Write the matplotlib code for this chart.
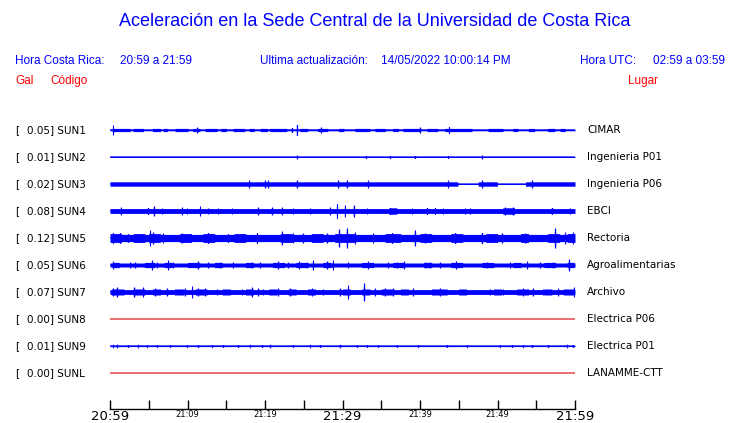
import matplotlib
matplotlib.use('Agg')
import matplotlib.pyplot as plt
import matplotlib.transforms as mtransforms
import numpy as np
from datetime import datetime, timedelta

# estaciones
codes = ['SUN1', 'SUN2', 'SUN3', 'SUN4', 'SUN5', 'SUN6', 'SUN7', 'SUN8', 'SUN9', 'SUNL']
gal = [0.05, 0.01, 0.02, 0.08, 0.12, 0.05, 0.07, 0.00, 0.01, 0.00]
places = ['CIMAR', 'Ingenieria P01', 'Ingenieria P06', 'EBCI', 'Rectoria',
          'Agroalimentarias', 'Archivo', 'Electrica P06', 'Electrica P01', 'LANAMME-CTT']

# amplitud de fondo de cada traza (px de media altura)
base_amp = [0.8, 0.5, 2.2, 2.4, 3.6, 2.0, 2.4, 0.0, 0.6, 0.0]

# tramos (min inicio, min fin, amplitud) y picos (min, amplitud)
blocks_sun1 = [(0.3, 2.6, 1.6), (3.0, 4.3, 1.6), (5.5, 6.5, 1.6), (6.9, 7.4, 1.6), (8.4, 10.1, 1.6),
               (10.7, 11.6, 1.6), (12.3, 13.8, 1.6), (14.3, 15.0, 1.6), (15.9, 17.4, 1.6),
               (18.0, 18.6, 1.6), (19.4, 20.3, 1.6), (20.6, 22.8, 1.6), (24.5, 25.5, 1.6),
               (26.8, 28.1, 1.6), (29.5, 30.2, 1.6), (31.6, 33.5, 1.6), (34.2, 35.5, 1.6),
               (36.5, 37.2, 1.6), (37.8, 40.0, 1.6), (40.9, 42.3, 1.6), (43.2, 46.7, 1.6),
               (48.8, 50.7, 1.6), (52.0, 52.6, 1.6), (54.0, 54.8, 1.6), (56.5, 57.4, 1.6),
               (58.1, 58.7, 1.6)]
spikes_sun1 = [(0.39, 5), (11.23, 3), (23.48, 2.5), (24.13, 5.5), (27.23, 3), (40.0, 3), (43.74, 3.5)]

blocks_sun2 = []
spikes_sun2 = [(24.13, 2), (33.03, 1.5), (36.13, 1.5), (39.35, 1.5), (43.61, 1.5), (48.0, 2)]

blocks_sun3 = [(44.9, 47.5, 0.5), (50.0, 53.6, 0.5)]  # tramos casi planos
spikes_sun3 = [(17.94, 4), (20.0, 4), (20.39, 4), (24.13, 4), (29.42, 4), (30.58, 4),
               (33.29, 4), (43.61, 4), (48.0, 4), (54.45, 4)]

blocks_sun4 = [(36.0, 37.0, 3.2), (50.7, 52.2, 3.2)]
spikes_sun4 = [(1.42, 4), (4.90, 3.5), (5.68, 5), (6.71, 3), (9.29, 4), (9.94, 3), (11.61, 5),
               (12.65, 3), (13.94, 3), (15.74, 3), (19.10, 4), (20.90, 4), (22.19, 4), (23.61, 3),
               (25.81, 3), (28.39, 4), (29.29, 7.5), (30.32, 6), (31.48, 6), (33.16, 3),
               (36.13, 3.5), (38.97, 3), (40.90, 3.5), (41.94, 3.5), (42.97, 3), (45.81, 3),
               (46.45, 3), (50.97, 4), (52.0, 4), (57.03, 3.5), (59.35, 3)]

blocks_sun5 = [(0.0, 1.5, 4.4), (3.0, 4.5, 4.4), (5.0, 6.5, 4.4), (9.0, 10.5, 4.4), (12.0, 13.5, 4.4),
               (16.0, 17.5, 4.4), (22.0, 23.5, 4.4), (26.0, 27.5, 4.4), (29.0, 31.5, 4.4),
               (35.5, 37.5, 4.4), (40.0, 41.5, 4.4), (44.0, 45.5, 4.4), (48.5, 50.0, 4.4),
               (53.0, 54.0, 4.4), (56.5, 58.0, 4.4), (59.0, 60.0, 4.4)]
spikes_sun5 = [(0.39, 5.5), (1.29, 5.5), (2.32, 4.5), (3.61, 4.5), (5.16, 8), (5.55, 6), (6.84, 5),
               (9.29, 5), (12.65, 5.5), (15.23, 4.5), (17.03, 4.5), (18.97, 5.5), (22.19, 7),
               (23.61, 5), (24.90, 5), (28.0, 5), (29.55, 9), (30.58, 10), (31.61, 6), (33.94, 5),
               (36.39, 5.5), (39.35, 8), (40.65, 5), (44.52, 5.5), (48.0, 5.5), (50.58, 5),
               (53.55, 5), (57.42, 10), (58.71, 6), (59.74, 6)]

blocks_sun6 = [(0.3, 1.2, 2.6), (4.5, 5.8, 2.6), (7.0, 8.0, 2.6), (10.0, 11.6, 2.6), (13.5, 14.5, 2.6),
               (17.5, 18.5, 2.6), (21.0, 22.5, 2.6), (24.0, 25.5, 2.6), (27.5, 28.5, 2.6),
               (32.5, 34.0, 2.6), (36.5, 38.0, 2.6), (40.5, 41.5, 2.6), (44.0, 45.5, 2.6),
               (48.0, 49.5, 2.6), (52.0, 53.0, 2.6), (56.0, 57.5, 2.6), (59.0, 59.9, 2.6)]
spikes_sun6 = [(0.39, 4), (2.58, 3), (3.23, 3), (5.42, 5), (6.06, 3), (7.48, 5), (8.13, 3),
               (11.35, 4), (12.65, 3), (14.19, 3), (15.87, 3), (18.32, 3), (19.35, 3), (21.68, 4),
               (22.97, 3), (24.39, 4), (25.42, 3), (26.19, 5), (28.0, 4), (28.77, 5), (30.71, 3),
               (33.29, 4), (35.87, 3), (37.03, 3), (37.94, 4), (40.65, 3), (41.2, 3), (42.58, 3),
               (44.65, 4), (48.65, 3), (51.61, 3), (53.81, 4), (55.48, 3), (57.16, 3), (59.23, 6)]

blocks_sun7 = [(0.2, 1.8, 3), (3.0, 4.5, 3), (5.5, 6.5, 3), (8.5, 9.5, 3), (11.0, 12.5, 3),
               (14.5, 15.5, 3), (17.5, 18.5, 3), (20.5, 21.5, 3), (23.0, 24.0, 3), (25.5, 26.5, 3),
               (30.0, 31.0, 3), (32.5, 33.5, 3), (35.0, 36.5, 3), (37.5, 38.5, 3), (41.5, 43.5, 3),
               (45.0, 46.0, 3), (49.5, 50.5, 3), (52.5, 54.0, 3), (56.0, 57.0, 3), (58.5, 59.8, 3)]
spikes_sun7 = [(0.39, 4), (0.90, 5), (1.68, 3), (3.10, 5), (4.26, 5), (5.81, 4), (7.35, 4), (8.39, 3),
               (9.68, 4), (10.58, 6), (11.35, 4), (12.26, 4), (13.81, 3), (15.23, 3), (17.03, 3),
               (18.32, 5), (19.10, 4), (19.74, 3), (21.68, 4), (23.23, 4), (26.06, 4), (27.48, 3),
               (29.68, 4), (30.71, 7), (32.77, 9), (34.19, 4), (35.48, 4), (36.52, 4), (39.10, 4),
               (42.58, 4), (49.03, 3), (50.71, 3), (53.29, 4), (54.58, 4), (55.87, 3), (57.81, 4),
               (59.87, 5)]

blocks_sun8 = []
spikes_sun8 = []

blocks_sun9 = []
spikes_sun9 = [(0.39, 1.8), (0.90, 1.8), (2.32, 1.5), (3.61, 1.8), (4.77, 1.5), (6.06, 1.5),
               (7.74, 1.5), (9.94, 1.5), (11.35, 1.5), (13.16, 1.5), (14.58, 1.5), (16.52, 1.5),
               (18.06, 1.8), (19.61, 1.5), (20.65, 1.8), (23.61, 1.5), (25.81, 1.8), (27.10, 1.5),
               (29.68, 1.8), (31.87, 1.5), (33.16, 1.5), (34.58, 1.5), (37.03, 1.5), (39.74, 1.5),
               (43.48, 1.5), (46.06, 1.5), (50.32, 1.5), (51.87, 1.5), (53.29, 1.5), (54.45, 1.5),
               (56.52, 1.5), (58.97, 1.8), (59.74, 1.5)]

blocks_sunl = []
spikes_sunl = []

all_blocks = [blocks_sun1, blocks_sun2, blocks_sun3, blocks_sun4, blocks_sun5,
              blocks_sun6, blocks_sun7, blocks_sun8, blocks_sun9, blocks_sunl]
all_spikes = [spikes_sun1, spikes_sun2, spikes_sun3, spikes_sun4, spikes_sun5,
              spikes_sun6, spikes_sun7, spikes_sun8, spikes_sun9, spikes_sunl]

start = datetime(2022, 5, 14, 20, 59)
W, H = 740, 423
ROW_PX = 27.0

fig = plt.figure(figsize=(7.4, 4.23), dpi=100)
ax = fig.add_axes([110 / W, (H - 409) / H, 465 / W, 306 / H])
ax.set_xlim(0, 60)
ax.set_ylim(10.333, -1)

t = np.linspace(0, 60, 2401)
for i in range(len(codes)):
    if base_amp[i] == 0:
        ax.plot(t, np.full_like(t, i), color='#dd0000', lw=0.8)
        continue
    env = np.full_like(t, base_amp[i])
    for t0, t1, a in all_blocks[i]:
        m = (t >= t0) & (t <= t1)
        if a < base_amp[i]:
            env[m] = a
        else:
            env[m] = np.maximum(env[m], a)
    for tc, a in all_spikes[i]:
        m = np.abs(t - tc) <= 0.08
        env[m] = np.maximum(env[m], a)
    env = env / ROW_PX
    ax.fill_between(t, i - env, i + env, color='#0000ff', lw=0)
    ax.plot(t, np.full_like(t, i), color='#0000ff', lw=0.9)

for s in ['top', 'left', 'right']:
    ax.spines[s].set_visible(False)
ax.spines['bottom'].set_color('black')
ax.spines['bottom'].set_linewidth(1)
ax.set_yticks([])

ticks = list(range(0, 61, 5))
labels = []
for m in ticks:
    lab = (start + timedelta(minutes=m)).strftime('%H:%M')
    labels.append(lab if m % 10 == 0 else '')
ax.set_xticks(ticks)
ax.set_xticklabels(labels, family='DejaVu Sans')
ax.tick_params(axis='x', direction='in', length=6.5, width=1, color='black', pad=0.5)
for m, lab in zip(ticks, ax.get_xticklabels()):
    lab.set_fontsize(9.5 if m % 30 == 0 else 6)

# textos
fx = lambda x: x / W
fy = lambda y: 1 - y / H
blue = '#0000ff'
red = '#ff0000'
hf = 'Liberation Sans'
fig.text(fx(375), fy(22), 'Aceleración en la Sede Central de la Universidad de Costa Rica',
         ha='center', va='center', color=blue, fontsize=13, family=hf)
fig.text(fx(15), fy(61), 'Hora Costa Rica:', va='center', color=blue, fontsize=8.5, family=hf)
fig.text(fx(120), fy(61), '20:59 a 21:59', va='center', color=blue, fontsize=8.5, family=hf)
fig.text(fx(260), fy(61), 'Ultima actualización:', va='center', color=blue, fontsize=8.5, family=hf)
fig.text(fx(381), fy(61), '14/05/2022 10:00:14 PM', va='center', color=blue, fontsize=8.5, family=hf)
fig.text(fx(580), fy(61), 'Hora UTC:', va='center', color=blue, fontsize=8.5, family=hf)
fig.text(fx(725), fy(61), '02:59 a 03:59', ha='right', va='center', color=blue, fontsize=8.5, family=hf)
fig.text(fx(15), fy(81), 'Gal', va='center', color=red, fontsize=8.5, family=hf)
fig.text(fx(50), fy(81), 'Código', va='center', color=red, fontsize=8.5, family=hf)
fig.text(fx(628), fy(81), 'Lugar', va='center', color=red, fontsize=8.5, family=hf)

trans = mtransforms.blended_transform_factory(fig.transFigure, ax.transData)
for i, (c, g, p) in enumerate(zip(codes, gal, places)):
    ax.text(fx(15), i, '[', transform=trans, va='center', fontsize=7.5, family='DejaVu Sans', clip_on=False)
    ax.text(fx(27), i, f'{g:.2f}] {c}', transform=trans, va='center', fontsize=7.5,
            family='DejaVu Sans', clip_on=False)
    ax.text(fx(587), i, p, transform=trans, va='center', fontsize=7.5, family='DejaVu Sans', clip_on=False)

fig.savefig('out.png', dpi=100)
